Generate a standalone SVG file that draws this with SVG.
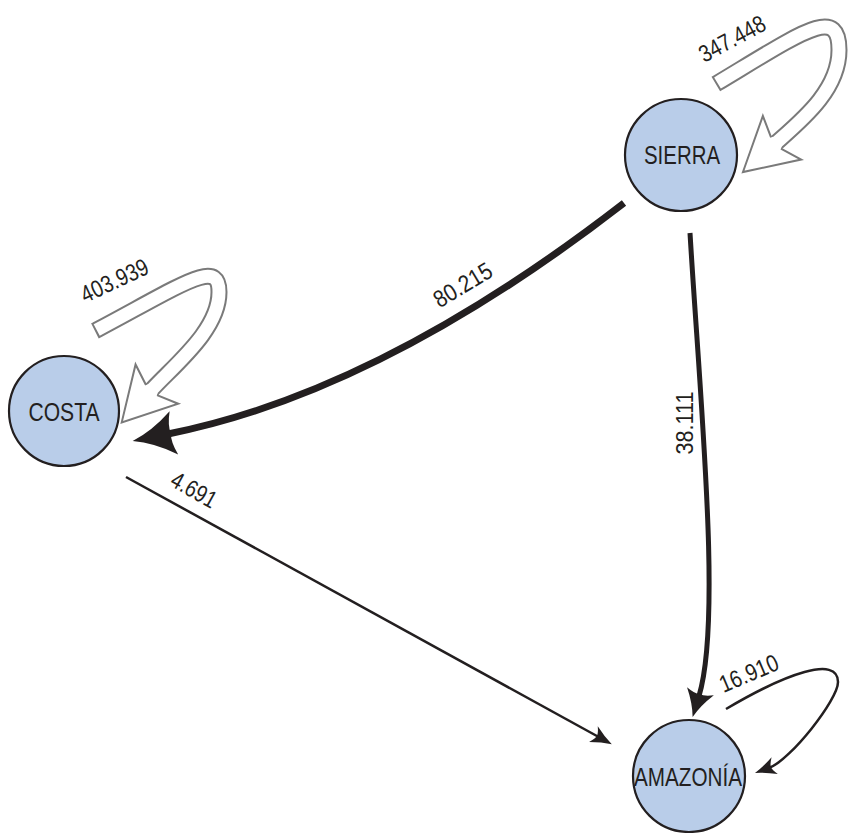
<svg xmlns="http://www.w3.org/2000/svg" xmlns:xlink="http://www.w3.org/1999/xlink" width="849" height="833" viewBox="0 0 849 833">
<style>
.node circle{fill:#b9cde9;stroke:#231f20;stroke-width:2.2}
.nlabel{font-family:"Liberation Sans Narrow","Liberation Sans",Arial,sans-serif;font-size:26px;fill:#231f20;text-anchor:middle}
.elabel{font-family:"Liberation Sans Narrow","Liberation Sans",Arial,sans-serif;font-size:24px;fill:#231f20;text-anchor:middle}
.edge{fill:none;stroke:#231f20;stroke-linecap:butt}
.loop-out{fill:none;stroke:#7a7a7a;stroke-width:17;stroke-linecap:butt}
.loop-in{fill:none;stroke:#ffffff;stroke-width:13;stroke-linecap:butt}
.hh-fill{fill:#ffffff;stroke:none}
.hh-line{fill:none;stroke:#7a7a7a;stroke-width:2;stroke-linejoin:miter}
.head{fill:#231f20;stroke:none}
</style>
<defs>
<marker id="hBig" markerUnits="userSpaceOnUse" orient="auto" overflow="visible" markerWidth="1" markerHeight="1" refX="0" refY="0">
<path class="head" d="M36,0 Q15,-6 -6,-22 Q-1,-8 -3,0 Q-1,8 -6,22 Q15,6 36,0Z"/>
</marker>
<marker id="hMid" markerUnits="userSpaceOnUse" orient="auto" overflow="visible" markerWidth="1" markerHeight="1" refX="0" refY="0">
<path class="head" d="M22,0 Q9,-4 -5,-14 Q-1,-5 -2,0 Q-1,5 -5,14 Q9,4 22,0Z"/>
</marker>
<marker id="hThin" markerUnits="userSpaceOnUse" orient="auto" overflow="visible" markerWidth="1" markerHeight="1" refX="0" refY="0">
<path class="head" d="M16,0 Q6,-3 -5,-9 Q-1,-3 -1,0 Q-1,3 -5,9 Q6,3 16,0Z"/>
</marker>
<g id="hollowHead">
<polygon class="hh-fill" points="-2,-6.5 0,-7.5 -8,-29 44,0 -8,29 0,7.5 -2,6.5"/>
<polyline class="hh-line" points="0,-7.5 -8,-29 44,0 -8,29 0,7.5"/>
</g>
</defs>

<g id="connectors">
<g id="edge-sierra-costa">
<path class="edge" stroke-width="7" d="M624,203 Q380,392 168,434" marker-end="url(#hBig)"/>
<text class="elabel" transform="translate(467,292) rotate(-31)" textLength="64" lengthAdjust="spacingAndGlyphs">80.215</text>
</g>
<g id="edge-sierra-amazonia">
<path class="edge" stroke-width="5" d="M690,233 C700,400 722,620 699,696" marker-end="url(#hMid)"/>
<text class="elabel" transform="translate(693,423) rotate(-90)" textLength="63" lengthAdjust="spacingAndGlyphs">38.111</text>
</g>
<g id="edge-costa-amazonia">
<path class="edge" stroke-width="2.5" d="M126,477 L597.8,736.5" marker-end="url(#hThin)"/>
<text class="elabel" transform="translate(190,497) rotate(29.3)" textLength="49" lengthAdjust="spacingAndGlyphs">4.691</text>
</g>
<g id="loop-amazonia">
<path class="edge" stroke-width="2.5" d="M726,709 C786,673.5 838,655 838,682 C838,700 790,760 770,767.4" marker-end="url(#hThin)"/>
<text class="elabel" transform="translate(752,681) rotate(-23)" textLength="62" lengthAdjust="spacingAndGlyphs">16.910</text>
</g>
<g id="loop-sierra">
<path class="loop-out" d="M715.8,84 L717.5,83 C803.2,31.5 839,5 839,50 C839,90 802,120 776,143"/>
<path class="loop-in" d="M717.5,83 C803.2,31.5 839,5 839,50 C839,90 802,120 776,143"/>
<use xlink:href="#hollowHead" transform="translate(776,143) rotate(138.7)"/>
<text class="elabel" transform="translate(736,46) rotate(-28)" textLength="72" lengthAdjust="spacingAndGlyphs">347.448</text>
</g>
<g id="loop-costa">
<path class="loop-out" d="M94.9,330.9 L96.7,330 C185,283.1 219,258 219,292 C219,330 175.3,364.1 151.5,390"/>
<path class="loop-in" d="M96.7,330 C185,283.1 219,258 219,292 C219,330 175.3,364.1 151.5,390"/>
<use xlink:href="#hollowHead" transform="translate(151.5,390) rotate(132.6)"/>
<text class="elabel" transform="translate(118,288) rotate(-25)" textLength="72" lengthAdjust="spacingAndGlyphs">403.939</text>
</g>
</g>

<g id="node-sierra" class="node">
<circle cx="681" cy="155" r="56"/>
<text class="nlabel" x="682" y="164" textLength="76" lengthAdjust="spacingAndGlyphs">SIERRA</text>
</g>
<g id="node-costa" class="node">
<circle cx="64" cy="411" r="55"/>
<text class="nlabel" x="64" y="421" textLength="71" lengthAdjust="spacingAndGlyphs">COSTA</text>
</g>
<g id="node-amazonia" class="node">
<circle cx="689" cy="776" r="56"/>
<text class="nlabel" x="688" y="786" textLength="108" lengthAdjust="spacingAndGlyphs">AMAZONÍA</text>
</g>
</svg>
